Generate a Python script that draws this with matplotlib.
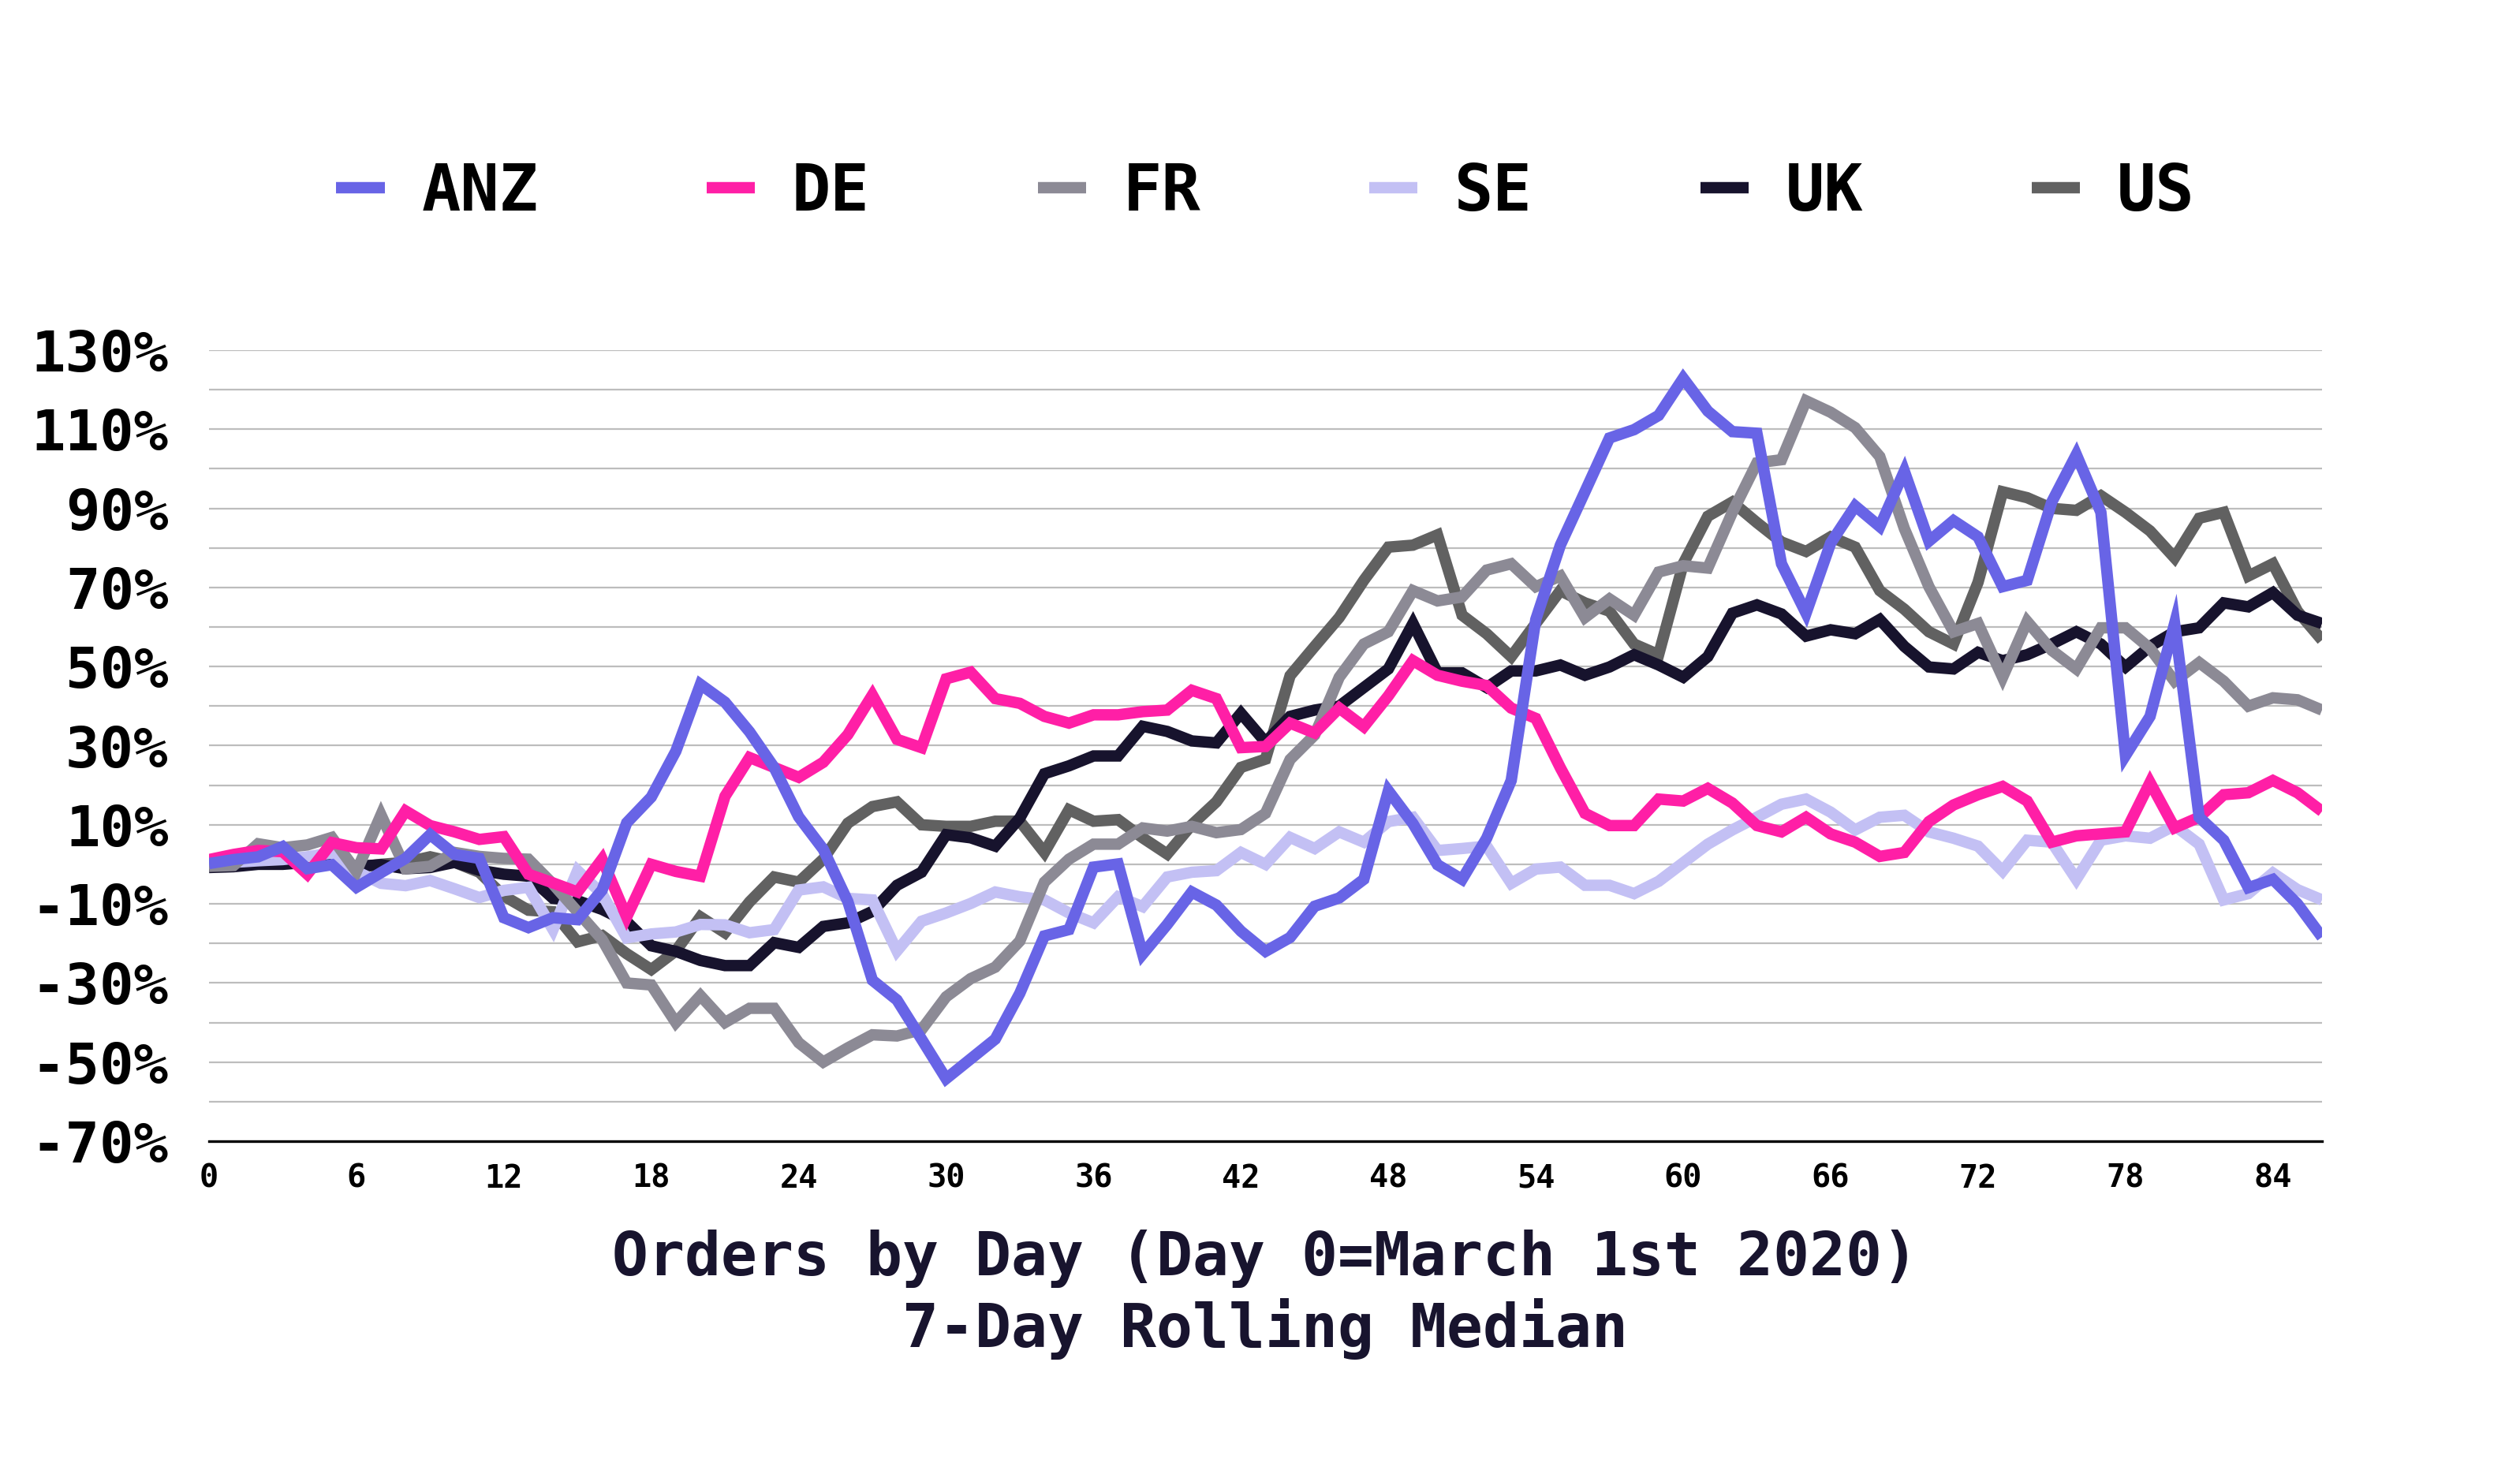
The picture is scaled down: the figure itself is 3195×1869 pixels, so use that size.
import matplotlib
matplotlib.use("Agg")
import matplotlib.pyplot as plt
from matplotlib.ticker import FuncFormatter

plt.rcParams['font.family'] = 'DejaVu Sans Mono'
plt.rcParams['font.weight'] = 'bold'

# days since March 1st 2020
days = list(range(0, 87))

anz = [0.2, 1.2, 1.9, 4.5, -1.1, -0.1, -5.8, -2.1, 1.5, 7.5,
       2.5, 1.5, -13.5, -16, -13.5, -14, -6.5, 10.5, 17, 28.6,
       45.5, 41, 33.5, 24.5, 12, 3.8, -9.4, -29.3, -34.3, -44.2,
       -54.2, -49.2, -44.2, -32.6, -18.1, -16.5, -0.7, 0.1, -22.7, -15.2,
       -7, -10.3, -16.9, -22, -18.5, -10.6, -8.5, -3.8, 18.6, 10.3,
       -0.1, -3.8, 6.6, 21.2, 61.9, 80.7, 94.2, 107.8, 109.9, 113.5,
       122.9, 114.6, 109.4, 109, 76, 63.5, 81.2, 90.6, 85.4, 99.4,
       81.7, 86.9, 82.8, 70.2, 71.8, 91.6, 103.6, 89, 27.5, 37.4,
       60.9, 11.9, 6.1, -5.9, -3.8, -10, -18.4]

de = [1.2, 2.5, 3.5, 3.2, -2.5, 5.5, 4.2, 3.9, 13.5, 9.8,
      8.2, 6.3, 7, -2.5, -4.7, -7, 1.3, -13.3, 0, -1.8,
      -3, 17.2, 27, 24.5, 22, 25.8, 32.8, 42.8, 31.6, 29.5,
      46.9, 48.6, 41.9, 40.7, 37.4, 35.7, 37.8, 37.8, 38.6, 39,
      44, 41.9, 29.5, 29.8, 35.7, 33.2, 39.5, 34.8, 42.6, 51.5,
      47.8, 46.3, 45.2, 39.5, 36.9, 24.4, 12.9, 9.8, 9.8, 16.5,
      16, 19.2, 15.5, 9.8, 8.2, 11.9, 7.7, 5.6, 2, 3,
      10.8, 15, 17.6, 19.7, 16, 5.6, 7.2, 7.7, 8.2, 20.7,
      9.2, 11.9, 17.6, 18.1, 21.2, 18.1, 13.4]

fr = [-0.5, -0.3, 5.2, 4.2, 4.9, 6.8, -1.8, 12.5, -1.1, -0.5,
      3, 2, 1.5, 1.3, -5, -12, -19, -30, -30.5, -40,
      -33.2, -40, -36.4, -36.4, -45.1, -50, -46.4, -43.1, -43.4, -41.8,
      -33.5, -28.9, -26, -19.4, -4.5, 1.3, 5.1, 5.1, 9.2, 8.4,
      9.6, 8, 8.8, 12.9, 26.5, 32.7, 47.3, 55.7, 58.8, 69.2,
      66.6, 67.6, 74.4, 76, 70.2, 72.9, 62.4, 67.1, 63, 73.9,
      75.5, 74.9, 89, 101.5, 102.3, 117.2, 114.3, 110.4, 103.1, 84.9,
      70.2, 58.8, 60.9, 47.3, 61.4, 54.1, 49.4, 59.8, 59.8, 54.6,
      46.3, 51, 46.3, 40, 42.1, 41.6, 39]

se = [0.2, 0.5, 0.9, 1.2, 1.9, 2.9, -1.8, -4.8, -5.4, -4.1,
      -6.2, -8.4, -6.6, -5.8, -16.5, -1.6, -7.5, -18.6, -17.6, -17.1,
      -15.2, -15.3, -17.3, -16.5, -6.5, -5.7, -8.6, -9, -21.9, -14.4,
      -12.3, -9.9, -7, -8.2, -9, -12.3, -14.8, -8.2, -10.7, -3.2,
      -2, -1.6, 3, 0, 6.8, 4, 8.2, 5.6, 10.8, 11.9,
      3.5, 4, 4.6, -4.8, -1.2, -0.7, -5.3, -5.3, -7.4, -4.3,
      0.4, 5.1, 8.7, 11.9, 15.2, 16.5, 13.2, 8.7, 11.9, 12.4,
      8.2, 6.6, 4.6, -1.7, 6.1, 5.6, -3.8, 6.1, 7.2, 6.6,
      9.8, 5.1, -9, -7.4, -2.2, -6.4, -9]

uk = [-0.8, -0.6, 0, 0, 0.5, 0.9, -0.5, -0.1, -1.1, -0.8,
      0.5, -1.5, -2.5, -3, -8.6, -9.2, -11.4, -14.5, -20.6, -22,
      -24.3, -25.6, -25.6, -19.8, -21, -15.7, -14.8, -11.9, -5.3, -2,
      7.5, 6.7, 4.6, 11.7, 22.9, 24.9, 27.4, 27.4, 34.9, 33.6,
      31.2, 30.7, 38.2, 30.9, 37.4, 39, 40, 44.7, 49.4, 60.9,
      48.4, 48.4, 44.7, 48.9, 48.9, 50.4, 47.8, 49.9, 53, 50.4,
      47.3, 52.5, 63.5, 65.6, 63.3, 57.7, 59.3, 58.3, 61.9, 55.1,
      49.9, 49.4, 53.6, 51.5, 53, 55.7, 58.8, 55.7, 49.9, 55.1,
      58.8, 59.8, 66.1, 65.1, 68.7, 63, 60.9]

us = [-0.5, 0, 0.2, 0.5, 1, 1.9, -0.8, 0, 0.5, 1.9,
      0.5, -2, -8, -11.6, -12, -19.6, -18, -22.6, -26.6, -21.9,
      -13.3, -17.3, -9.5, -3.2, -4.5, 1.3, 10.4, 14.6, 15.8, 10,
      9.6, 9.6, 10.9, 10.9, 3, 13.8, 10.9, 11.3, 6.7, 2.6,
      10, 15.8, 24.5, 26.6, 47.7, 55.1, 62.4, 71.8, 80.2, 80.7,
      83.3, 63, 58.3, 52.5, 60.9, 69.2, 66.1, 64, 55.7, 53,
      76, 88, 91.6, 86.4, 81.5, 79.1, 82.8, 80.2, 69.2, 64.5,
      58.8, 55.7, 71.3, 94.2, 92.7, 90, 89.5, 93.2, 89, 84.3,
      77.5, 87.5, 89, 72.9, 76, 64, 56.7]

names = ['ANZ', 'DE', 'FR', 'SE', 'UK', 'US']
series = [anz, de, fr, se, uk, us]
colors = ['#6864e6', '#ff1fa6', '#8c8a95', '#c3c0f4', '#17132d', '#616161']

W, H = 3195, 1869
left, right, top, bottom = 265, 2944, 444, 1447

fig = plt.figure(figsize=(W / 100, H / 100), dpi=100)
ax = fig.add_axes([left / W, 1 - bottom / H, (right - left) / W, (bottom - top) / H])

handles = {}
# draw US first so ANZ sits on top
for name, vals, col in reversed(list(zip(names, series, colors))):
    line, = ax.plot(days, vals, color=col, lw=10.4, label=name,
                    solid_joinstyle='miter', solid_capstyle='butt')
    handles[name] = line

ax.set_xlim(0, 86)
ax.set_ylim(-70, 130)
ax.set_xticks(range(0, 85, 6))
ax.set_yticks(range(-70, 131, 20))
ax.set_yticks(range(-60, 131, 20), minor=True)
ax.yaxis.set_major_formatter(FuncFormatter(lambda v, p: f"{int(v)}%"))
ax.grid(axis='y', which='both', color='#bdbdbd', lw=1.6)
ax.set_axisbelow(True)

for s in ['top', 'right', 'left']:
    ax.spines[s].set_visible(False)
ax.spines['bottom'].set_color('black')
ax.spines['bottom'].set_linewidth(2.4)
ax.spines['bottom'].set_zorder(5)

ax.tick_params(axis='y', which='both', length=0, pad=37, labelsize=52)
ax.tick_params(axis='x', length=0, pad=20, labelsize=29)
for lab in ax.get_yticklabels() + ax.get_xticklabels():
    lab.set_fontweight('bold')

ax.set_xlabel("Orders by Day (Day 0=March 1st 2020)\n7-Day Rolling Median",
              fontsize=55, color='#18142e', fontweight='bold', linespacing=1.2)
ax.xaxis.set_label_coords(0.5, -0.112)
ax.xaxis.label.set_va('top')

fig.legend([handles[n] for n in names], names, loc='center',
           bbox_to_anchor=((left + right) / 2 / W, 1 - 244 / H),
           ncol=6, frameon=False, prop={'size': 59, 'weight': 'bold'},
           handlelength=0.75, handletextpad=0.57, columnspacing=2.6)

fig.savefig('out.png', dpi=100, facecolor='white')
